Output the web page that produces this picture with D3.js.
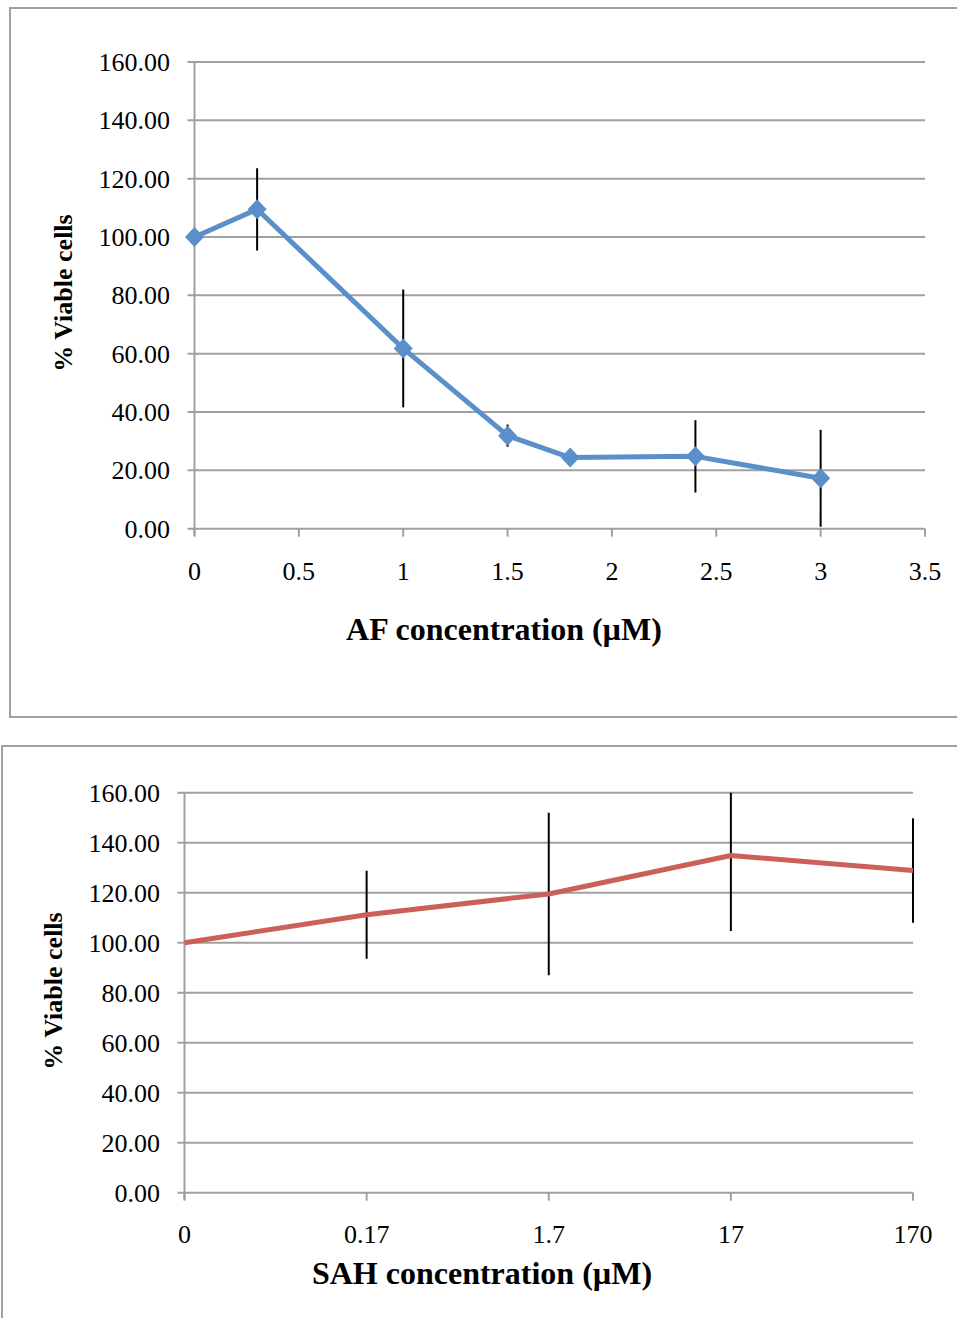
<!DOCTYPE html>
<html>
<head>
<meta charset="utf-8">
<script src="https://cdn.jsdelivr.net/npm/d3@7"></script>
<style>
  html, body { margin: 0; padding: 0; background: #fff; }
  svg { display: block; }
  text { font-family: "Liberation Serif", "Times New Roman", serif; fill: #000; }
</style>
</head>
<body>
<svg id="chart" width="957" height="1318"></svg>
<script>
// AF dose-response: concentration (µM), mean % viable cells, error (±)
const afConc   = [0, 0.3, 1, 1.5, 1.8, 2.4, 3];
const afViable = [100, 109.5, 61.8, 31.9, 24.4, 24.8, 17.3];
const afError  = [0, 14.1, 20.2, 3.8, 0, 12.4, 16.6];
const afTicks  = [0, 0.5, 1, 1.5, 2, 2.5, 3, 3.5];

// SAH dose-response: categorical concentrations (µM)
const sahConc   = ["0", "0.17", "1.7", "17", "170"];
const sahViable = [100, 111.2, 119.5, 134.9, 128.9];
const sahError  = [0, 17.6, 32.5, 30.2, 20.9];

const yTicks = [0, 20, 40, 60, 80, 100, 120, 140, 160];

const svg = d3.select("#chart");
const GRID = "#a0a0a0";

function panel(cfg) {
  const g = svg.append("g");
  // chart frame
  g.append("rect")
    .attr("x", cfg.frame[0]).attr("y", cfg.frame[1])
    .attr("width", cfg.frame[2]).attr("height", cfg.frame[3])
    .attr("fill", "#fff").attr("stroke", GRID).attr("stroke-width", 2);

  const x = cfg.x, y = cfg.y;
  const [x0, x1] = x.range();
  const [yb, yt] = y.range();

  // horizontal gridlines + left ticks
  g.append("g").selectAll("line").data(yTicks).join("line")
    .attr("x1", x0 - 7).attr("x2", x1)
    .attr("y1", d => y(d)).attr("y2", d => y(d))
    .attr("stroke", GRID).attr("stroke-width", 2);

  // y axis line
  g.append("line").attr("x1", x0).attr("x2", x0).attr("y1", yb + 7).attr("y2", yt)
    .attr("stroke", GRID).attr("stroke-width", 2);

  // y tick labels
  g.append("g").selectAll("text").data(yTicks).join("text")
    .attr("x", cfg.yLabelX).attr("y", d => y(d)).attr("dy", "0.34em")
    .attr("text-anchor", "end").style("font-size", "26px")
    .text(d3.format(".2f"));

  // x ticks + labels
  const xt = cfg.xTickValues;
  g.append("g").selectAll("line").data(xt).join("line")
    .attr("x1", d => x(d)).attr("x2", d => x(d))
    .attr("y1", yb).attr("y2", yb + 8)
    .attr("stroke", GRID).attr("stroke-width", 2);
  g.append("g").selectAll("text").data(xt).join("text")
    .attr("x", d => x(d)).attr("y", cfg.xLabelY)
    .attr("text-anchor", "middle").style("font-size", "26px")
    .text(d => String(d));

  // axis titles
  g.append("text").attr("x", cfg.xTitle[0]).attr("y", cfg.xTitle[1])
    .attr("text-anchor", "middle").style("font-size", "32px").style("font-weight", "bold")
    .text(cfg.xTitleText);
  g.append("text")
    .attr("transform", `translate(${cfg.yTitle[0]},${cfg.yTitle[1]}) rotate(-90)`)
    .attr("text-anchor", "middle").style("font-size", "26px").style("font-weight", "bold")
    .text("% Viable cells");

  // plot clip so error bars stop at the axis limits
  const clipId = "clip-" + cfg.id;
  g.append("clipPath").attr("id", clipId).append("rect")
    .attr("x", x0 - 20).attr("y", yt).attr("width", x1 - x0 + 40).attr("height", yb - yt);

  const data = cfg.xs.map((c, i) => ({ c, v: cfg.vals[i], e: cfg.errs[i] }));
  const plot = g.append("g").attr("clip-path", `url(#${clipId})`);

  // error bars (no caps)
  plot.append("g").selectAll("line").data(data.filter(d => d.e > 0)).join("line")
    .attr("x1", d => x(d.c)).attr("x2", d => x(d.c))
    .attr("y1", d => y(d.v - d.e)).attr("y2", d => y(d.v + d.e))
    .attr("stroke", "#000").attr("stroke-width", 2);

  // series line
  g.append("path").datum(data)
    .attr("d", d3.line().x(d => x(d.c)).y(d => y(d.v)))
    .attr("fill", "none").attr("stroke", cfg.color).attr("stroke-width", 5)
    .attr("stroke-linejoin", "round");

  // diamond markers
  if (cfg.markers) {
    g.append("g").selectAll("path").data(data).join("path")
      .attr("transform", d => `translate(${x(d.c)},${y(d.v)})`)
      .attr("d", "M0,-10L9.5,0L0,10L-9.5,0Z")
      .attr("fill", cfg.color);
  }
}

panel({
  id: "af",
  frame: [10, 8, 960, 709],
  x: d3.scaleLinear().domain([0, 3.5]).range([194.5, 925]),
  y: d3.scaleLinear().domain([0, 160]).range([528.7, 62]),
  xTickValues: afTicks,
  yLabelX: 170, xLabelY: 580,
  xTitle: [504, 640], xTitleText: "AF concentration (µM)",
  yTitle: [72, 293],
  xs: afConc, vals: afViable, errs: afError,
  color: "#5b8fc9", markers: true
});

panel({
  id: "sah",
  frame: [2, 746, 970, 580],
  x: d3.scalePoint().domain(sahConc).range([184.5, 913]),
  y: d3.scaleLinear().domain([0, 160]).range([1192.7, 792.7]),
  xTickValues: sahConc,
  yLabelX: 160, xLabelY: 1243,
  xTitle: [482, 1284], xTitleText: "SAH concentration (µM)",
  yTitle: [62, 991],
  xs: sahConc, vals: sahViable, errs: sahError,
  color: "#cd5f5a", markers: false
});
</script>
</body>
</html>
